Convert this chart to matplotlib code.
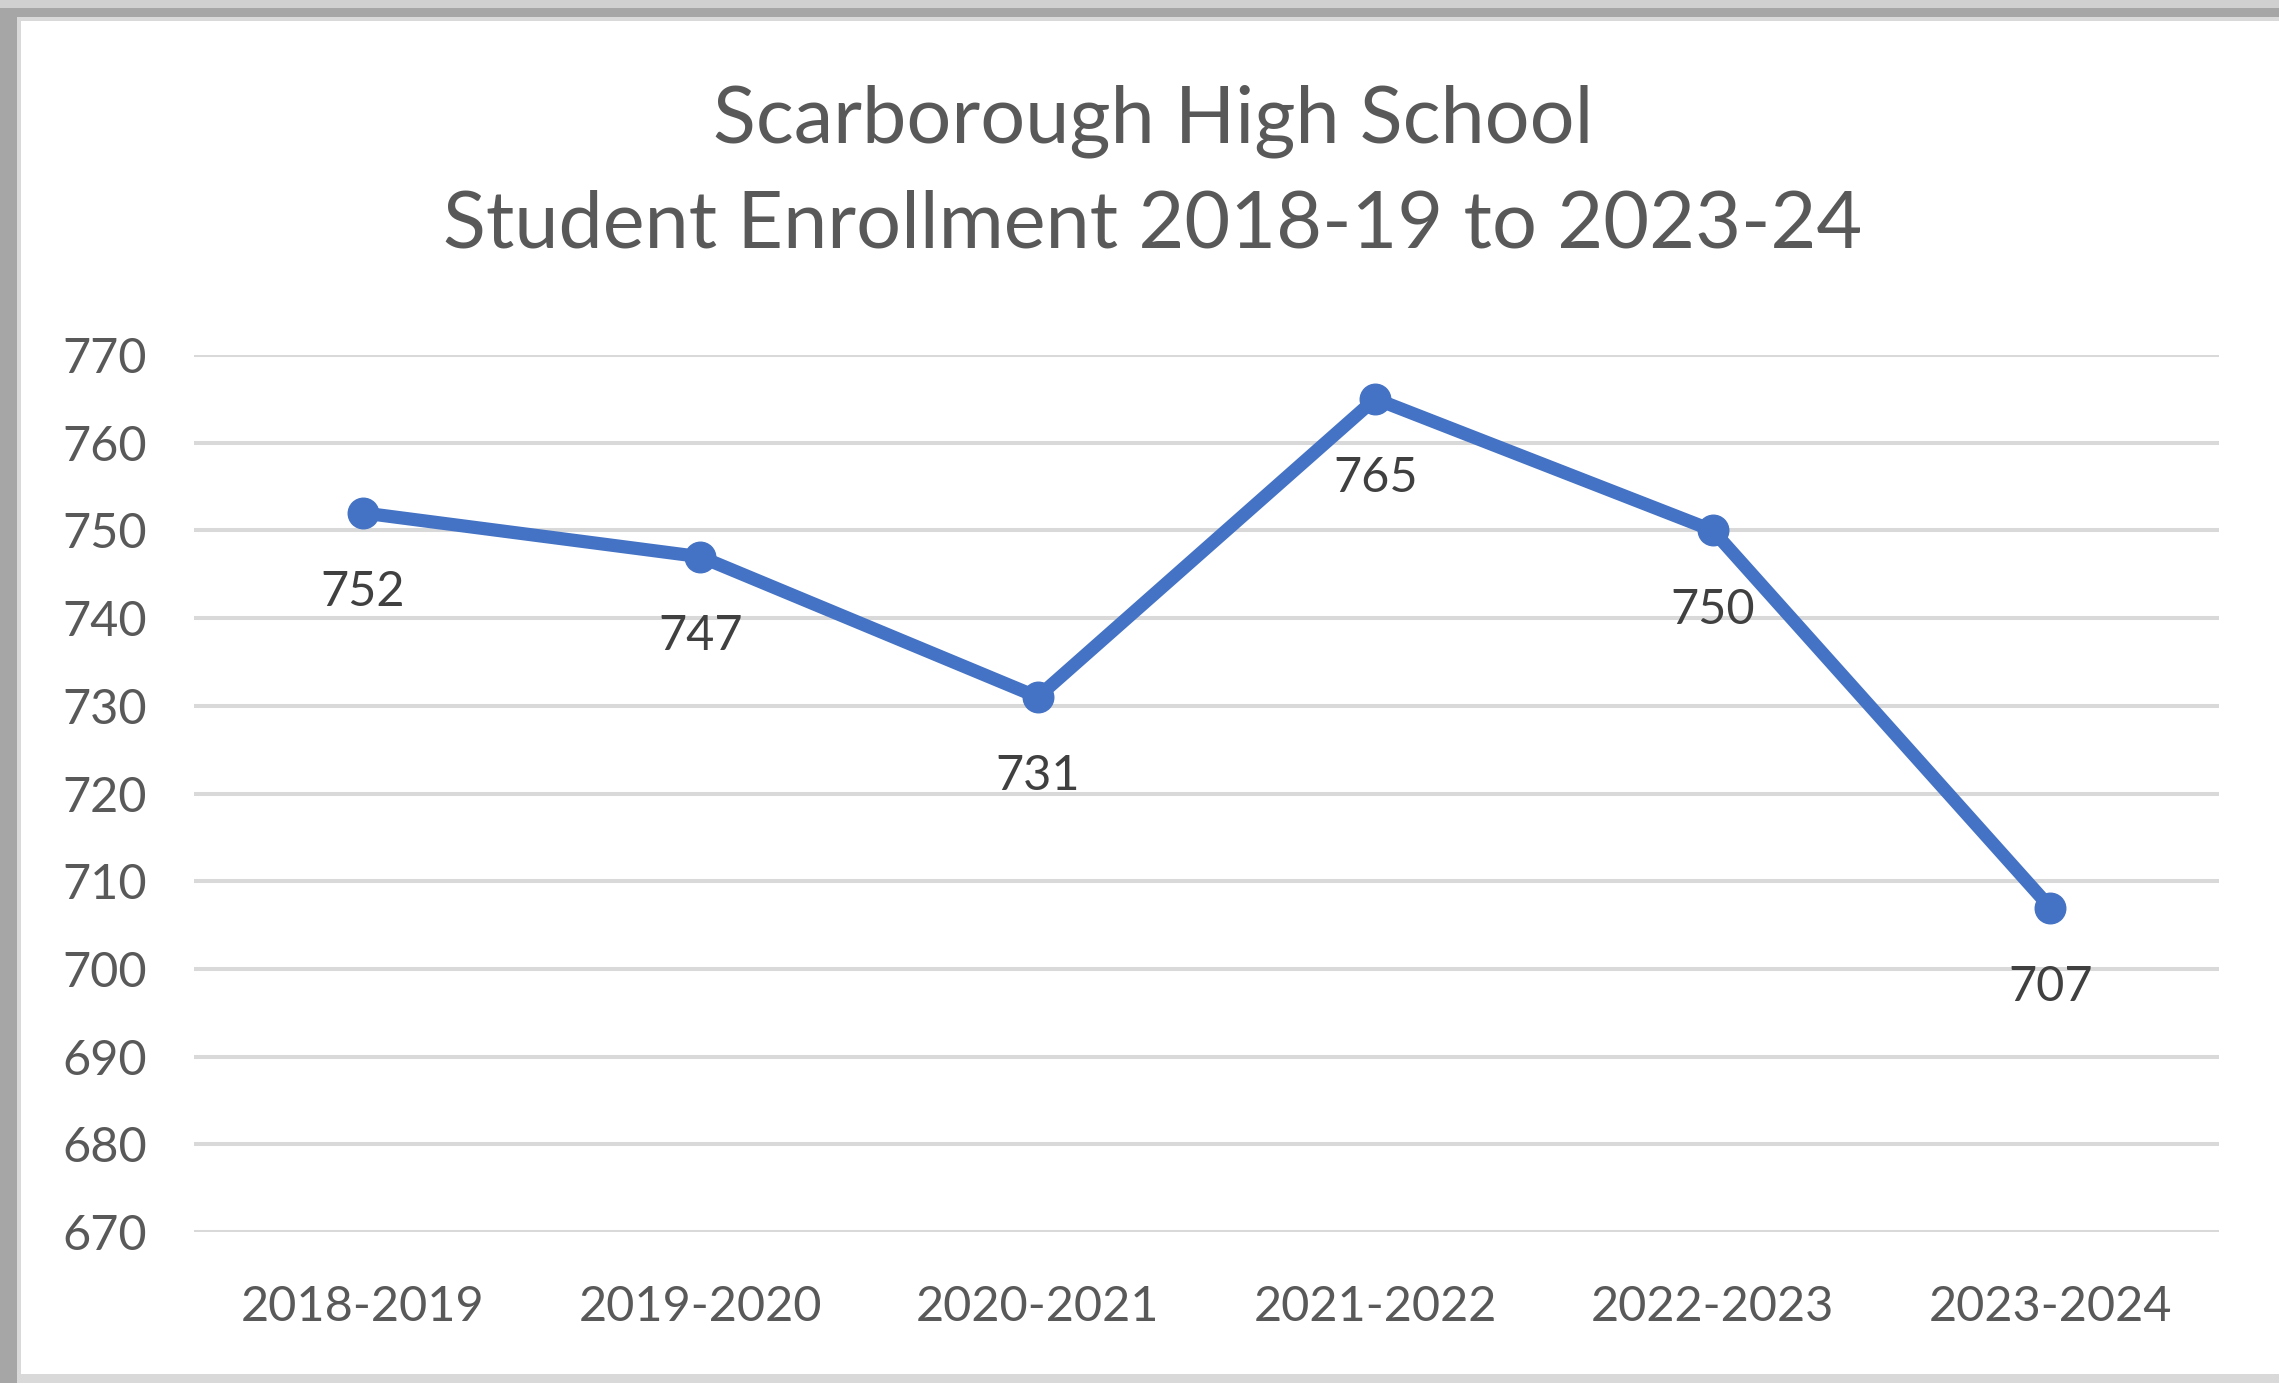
import matplotlib.pyplot as plt
from matplotlib.patches import Rectangle

years = ['2018-2019', '2019-2020', '2020-2021', '2021-2022', '2022-2023', '2023-2024']
enrollment = [752, 747, 731, 765, 750, 707]
yticks = list(range(670, 771, 10))

plt.rcParams['font.family'] = ['Lato', 'DejaVu Sans']

W, H = 2279, 1383
fig = plt.figure(figsize=(W / 100, H / 100), dpi=100)
fig.patch.set_facecolor('#a6a6a6')

# frame / shadow around the chart
fig.patches.append(Rectangle((0, 1 - 8 / H), 1, 8 / H, transform=fig.transFigure,
                             facecolor='#d0d0d0', edgecolor='none', zorder=0))
fig.patches.append(Rectangle((17 / W, 0), 1, 1 - 17 / H, transform=fig.transFigure,
                             facecolor='#d9d9d9', edgecolor='none', zorder=0))
fig.patches.append(Rectangle((21 / W, 9 / H), 1, 1 - 30 / H, transform=fig.transFigure,
                             facecolor='white', edgecolor='none', zorder=0))

ax = fig.add_axes([194 / W, 1 - 1232 / H, (2219 - 194) / W, (1232 - 355) / H])
ax.set_zorder(2)
x = range(len(years))
ax.plot(x, enrollment, color='#4472C4', lw=9.5, marker='o', ms=22,
        solid_joinstyle='round', zorder=3)

for i, v in zip(x, enrollment):
    ax.annotate(str(v), (i, v), xytext=(0, -57), textcoords='offset points',
                ha='center', va='center', fontsize=35, color='#404040', zorder=4)

ax.set_xlim(-0.5, len(years) - 0.5)
ax.set_ylim(670, 770)
ax.set_yticks(yticks)
ax.set_xticks(list(x))
ax.set_xticklabels(years)
ax.grid(axis='y', color='#d9d9d9', lw=2.9)
ax.set_axisbelow(True)
for s in ax.spines.values():
    s.set_visible(False)
ax.tick_params(length=0, labelsize=35, labelcolor='#595959')
ax.tick_params(axis='y', pad=34)
ax.tick_params(axis='x', pad=38)
ax.patch.set_alpha(0)

fig.text(1153 / W, 1 - 121 / H, 'Scarborough High School', ha='center', va='center',
         fontsize=57, color='#595959', zorder=3)
fig.text(1153 / W, 1 - 225 / H, 'Student Enrollment 2018-19 to 2023-24', ha='center',
         va='center', fontsize=57, color='#595959', zorder=3)

fig.savefig('out.png', dpi=100, facecolor=fig.get_facecolor())
